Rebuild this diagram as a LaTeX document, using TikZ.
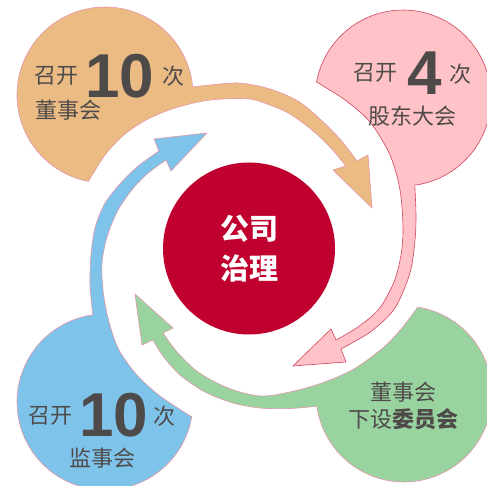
\documentclass[tikz,border=0pt]{standalone}
\usepackage{fontspec}
\newfontfamily\cjk{Noto Sans CJK SC}
\newfontfamily\numfont{Liberation Sans}
\definecolor{orfill}{HTML}{EBBB84}
\definecolor{pkfill}{HTML}{FFC2C6}
\definecolor{grfill}{HTML}{99D3A0}
\definecolor{blfill}{HTML}{7EC4EA}
\definecolor{softline}{HTML}{E495A8}
\definecolor{pkline}{HTML}{D2455F}
\definecolor{core}{HTML}{C0002E}
\definecolor{txt}{HTML}{4F4A4A}
\begin{document}
\begin{tikzpicture}[x=1pt,y=-1pt,
  blob/.style={line width=0.6pt, line join=round},
  lbl/.style={font={\cjk\fontsize{22}{26}\selectfont}, text=txt, inner sep=0pt},
  big/.style={font={\numfont\bfseries\fontsize{62}{62}\selectfont}, text=txt, inner sep=0pt}]
\useasboundingbox (0,0) rectangle (487,486);

% orange comma
\filldraw[blob, fill=orfill, draw=softline]
  plot[domain=100.9:354.8, samples=70, variable=\t] ({105+88*cos(\t)},{95+88*sin(\t)})
  -- plot[smooth] coordinates {(192.6,87) (237,83) (270,89) (298,101) (320,119) (340,139) (357,161)}
  -- (368,155) -- (372,208) -- (333,170)
  -- plot[smooth] coordinates {(346,166) (330,147) (312,130) (290,114) (270,105) (250,99) (222,99) (198,102) (172,109) (148,119) (125,134) (105,155) (88.4,181.4)}
  -- cycle;

% pink comma
\filldraw[blob, fill=pkfill, draw=pkline]
  plot[domain=190.5:442.3, samples=70, variable=\t] ({403+88*cos(\t)},{98+88*sin(\t)})
  -- plot[smooth] coordinates {(414.8,185.2) (416,215) (415,240) (410,273) (395,308) (373,330) (352,343) (341,349)}
  -- (346,362) -- (293,366) -- (331,329)
  -- plot[smooth] coordinates {(336,340) (358,327) (379,309) (394,282) (401,255) (403,228) (400,190) (390,155) (370,122) (345,100) (316.5,82)}
  -- cycle;

% green comma
\filldraw[blob, fill=grfill, draw=softline]
  plot[domain=279:532, samples=70, variable=\t] ({404+88*cos(\t)},{394+88*sin(\t)})
  -- plot[smooth] coordinates {(316.9,406.2) (290,408.5) (260,408) (233,403) (205,392) (180,375) (163,356) (153,340)}
  -- (142,345) -- (135,294) -- (173,328)
  -- plot[smooth] coordinates {(163,333) (177,352) (198,372) (228,388) (260,396) (290,392) (322,383) (354,369) (384,347) (402,328) (417.8,307.1)}
  -- cycle;

% blue comma
\filldraw[blob, fill=blfill, draw=softline]
  plot[domain=9.7:262.1, samples=70, variable=\t] ({105+88*cos(\t)},{402+88*sin(\t)})
  -- plot[smooth] coordinates {(92.9,314.8) (90,285) (91,255) (95,228) (104,205) (118,186) (137,167) (159,151)}
  -- (154,139) -- (207,133) -- (171,171)
  -- plot[smooth] coordinates {(166,160) (147,174) (131,191) (117,212) (107,237) (102,263) (103,290) (108,318) (118,348) (136,374) (160,396) (191.7,416.8)}
  -- cycle;

% centre
\node[circle, fill=core, minimum size=172pt, inner sep=0pt, text=white, align=center,
      font={\cjk\bfseries\fontsize{29}{40}\selectfont}] (hub) at (249,248.5) {公司\\治理};

% orange labels
\node[lbl] (o1) at (56,76) {召开};
\node[big] (o2) at (120,76) {10};
\node[lbl] (o3) at (173,76) {次};
\node[lbl] (o4) at (68,110) {董事会};
% pink labels
\node[lbl] (p1) at (375,73) {召开};
\node[big] (p2) at (425,73) {4};
\node[lbl] (p3) at (460,74) {次};
\node[lbl] (p4) at (412,116) {股东大会};
% blue labels
\node[lbl] (b1) at (50,416) {召开};
\node[big] (b2) at (114,415) {10};
\node[lbl] (b3) at (164,416) {次};
\node[lbl] (b4) at (102,458) {监事会};
% green labels
\node[lbl] (g1) at (403,392) {董事会};
\node[lbl] (g2) at (403,419) {下设\textbf{委员会}};
\end{tikzpicture}
\end{document}
